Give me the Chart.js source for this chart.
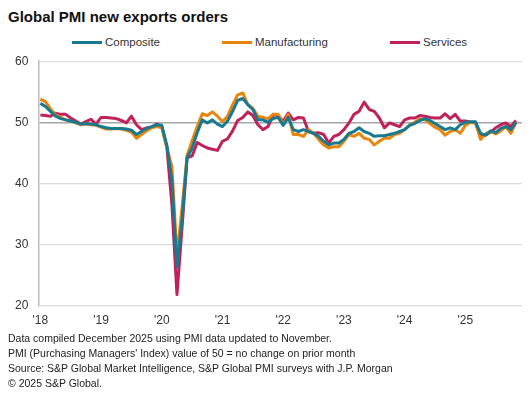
<!DOCTYPE html>
<html>
<head>
<meta charset="utf-8">
<script src="https://cdn.jsdelivr.net/npm/chart.js@4.4.1/dist/chart.umd.min.js"></script>
<style>
  body { margin: 0; background: #fff; font-family: "Liberation Sans", Arial, sans-serif; color: #222; }
  #wrap { position: relative; width: 530px; height: 394px; overflow: hidden; }
  #title { position: absolute; left: 8px; top: 8px; font-size: 15px; font-weight: bold; color: #111; }
  #legend { position: absolute; top: 34px; left: 0; width: 530px; height: 16px; font-size: 11.5px; color: #333; }
  .item { position: absolute; top: 0; display: flex; align-items: center; height: 16px; }
  .swatch { display: inline-block; width: 30px; height: 3px; margin-right: 3px; }
  #chartBox { position: absolute; left: 0; top: 44px; width: 530px; height: 292px; }
  #chartBox canvas { display: block; }
  #notes { position: absolute; left: 8px; top: 331px; font-size: 10.5px; line-height: 15px; color: #222; }
</style>
</head>
<body>
<div id="wrap">
  <div id="title">Global PMI new exports orders</div>
  <div id="legend"></div>
  <div id="chartBox"><canvas id="myChart" width="530" height="292"></canvas></div>
  <div id="notes">
    Data compiled December 2025 using PMI data updated to November.<br>
    PMI (Purchasing Managers' Index) value of 50 = no change on prior month<br>
    Source: S&amp;P Global Market Intelligence, S&amp;P Global PMI surveys with J.P. Morgan<br>
    &copy; 2025 S&amp;P Global.
  </div>
</div>
<script>
// monthly, Jan 2018 .. Nov 2025
var years = [2018, 2019, 2020, 2021, 2022, 2023, 2024, 2025];
var monthNames = ["Jan","Feb","Mar","Apr","May","Jun","Jul","Aug","Sep","Oct","Nov","Dec"];
var months = [];
years.forEach(function (y) {
  monthNames.forEach(function (m) { months.push(m + " " + y); });
});
months = months.slice(0, 95);

var composite = [
  53.1, 52.6, 51.8, 51.0, 50.6, 50.4, 50.2, 50.0, 49.7, 49.8, 49.7, 49.6,
  49.3, 49.1, 49.0, 49.0, 49.0, 48.9, 48.7, 48.0, 48.5, 49.0, 49.3, 49.6,
  49.5, 46.2, 40.5, 26.3, 34.0, 44.2, 45.8, 48.3, 50.4, 49.9, 50.4, 49.7,
  49.3, 50.2, 51.8, 53.6, 53.9, 52.9, 52.1, 50.4, 50.4, 50.0, 50.6, 50.8,
  49.5, 50.8, 48.8, 48.5, 48.8, 48.5, 48.2, 47.7, 46.9, 46.3, 46.6, 46.6,
  47.2, 48.2, 48.5, 49.1, 48.5, 48.2, 47.7, 47.8, 47.8, 48.0, 48.2, 48.5,
  48.8, 49.5, 49.8, 50.3, 50.6, 50.3, 49.8, 49.3, 48.8, 49.1, 48.8, 49.6,
  50.0, 50.1, 50.1, 48.2, 47.9, 48.6, 48.3, 49.0, 49.3, 48.8, 50.0
];
var manufacturing = [
  53.8, 53.4, 52.2, 51.2, 50.8, 50.4, 50.2, 49.9, 49.6, 49.7, 49.6, 49.5,
  49.2, 48.9, 48.9, 49.0, 48.9, 48.7, 48.4, 47.4, 48.0, 48.6, 49.1, 49.3,
  49.1, 45.8, 42.8, 28.2, 36.0, 44.6, 47.0, 49.3, 51.4, 51.1, 51.7, 51.0,
  50.1, 51.0, 52.9, 54.5, 54.8, 52.9, 52.3, 51.0, 50.8, 50.6, 51.3, 51.3,
  49.7, 51.3, 48.0, 48.0, 47.7, 48.8, 48.2, 47.2, 46.3, 45.8, 46.0, 46.0,
  46.9, 48.0, 47.7, 48.2, 47.4, 47.2, 46.3, 46.9, 47.4, 47.4, 48.0, 48.2,
  48.8, 49.6, 50.0, 50.6, 50.4, 49.8, 49.2, 48.8, 47.9, 48.5, 48.8, 48.2,
  49.5, 50.0, 50.0, 47.2, 48.1, 48.5, 48.1, 48.6, 49.3, 48.2, 50.0
];
var services = [
  51.2, 51.1, 51.0, 51.5, 51.3, 51.3, 50.7, 50.2, 49.7, 50.1, 50.5, 49.7,
  50.8, 50.8, 50.7, 50.6, 50.3, 49.9, 51.0, 49.6, 48.8, 49.1, 49.2, 49.7,
  49.3, 46.0, 36.5, 21.8, 32.7, 44.2, 44.5, 46.7, 46.2, 45.8, 45.6, 45.4,
  46.9, 47.3, 48.6, 50.3, 50.8, 51.7, 51.1, 49.6, 48.8, 49.3, 51.3, 51.0,
  50.2, 51.5, 50.4, 50.8, 50.7, 48.5, 48.2, 48.3, 48.0, 46.6, 47.7, 48.0,
  48.8, 49.9, 51.3, 51.8, 53.3, 52.1, 51.8, 50.7, 49.1, 49.9, 49.6, 49.3,
  50.4, 50.7, 50.7, 51.1, 51.0, 50.8, 50.7, 50.7, 51.4, 50.6, 51.3, 50.2,
  50.2, 50.0, 49.9, 47.7, 47.9, 48.4, 49.1, 49.6, 49.9, 49.3, 50.3
];

var seriesNames = ["Composite", "Manufacturing", "Services"];
var seriesColors = ["#177a8f", "#e8850c", "#c0215a"];
var yTicks = [20, 30, 40, 50, 60];

function pts(arr) {
  return arr.map(function (v, i) { return { x: i, y: v }; });
}

// html legend
var legendEl = document.getElementById("legend");
var legendLeft = [72, 222, 390];
seriesNames.forEach(function (name, k) {
  var d = document.createElement("div");
  d.className = "item";
  d.style.left = legendLeft[k] + "px";
  d.innerHTML = '<span class="swatch" style="background:' + seriesColors[k] + '"></span>' + name;
  legendEl.appendChild(d);
});

var ctx = document.getElementById("myChart").getContext('2d');
var myChart = new Chart(ctx, {
  type: 'line',
  data: {
    datasets: [
      { label: seriesNames[0], data: pts(composite), borderColor: seriesColors[0], backgroundColor: seriesColors[0] },
      { label: seriesNames[1], data: pts(manufacturing), borderColor: seriesColors[1], backgroundColor: seriesColors[1] },
      { label: seriesNames[2], data: pts(services), borderColor: seriesColors[2], backgroundColor: seriesColors[2] }
    ]
  },
  options: {
    responsive: false,
    animation: false,
    layout: { padding: { left: 5, right: 8, top: 5, bottom: 0 } },
    elements: {
      point: { radius: 0 },
      line: { borderWidth: 3, tension: 0, borderJoinStyle: 'round' }
    },
    plugins: {
      legend: { display: false },
      title: { display: false },
      tooltip: { enabled: false }
    },
    scales: {
      x: {
        type: 'linear',
        min: -0.4,
        max: 95.2,
        grid: { display: false, drawTicks: false },
        border: { display: false },
        ticks: {
          stepSize: 12,
          includeBounds: false,
          autoSkip: false,
          maxRotation: 0,
          padding: 8,
          color: '#333',
          font: { family: "Liberation Sans", size: 12 },
          callback: function (v) {
            if (v < 0 || v % 12 !== 0) return '';
            return "'" + months[v].slice(-2);
          }
        }
      },
      y: {
        min: 20,
        max: 60,
        afterBuildTicks: function (axis) {
          axis.ticks = yTicks.map(function (v) { return { value: v }; });
        },
        grid: {
          drawTicks: false,
          color: function (c) { return c.tick && c.tick.value === 50 ? '#a6a6a6' : '#dcdcdc'; },
          lineWidth: function (c) { return c.tick && c.tick.value === 50 ? 1.5 : 1.2; }
        },
        border: { display: true, color: '#bdbdbd', width: 1.5 },
        ticks: {
          padding: 10,
          color: '#333',
          font: { family: "Liberation Sans", size: 12 }
        }
      }
    }
  }
});
</script>
</body>
</html>
